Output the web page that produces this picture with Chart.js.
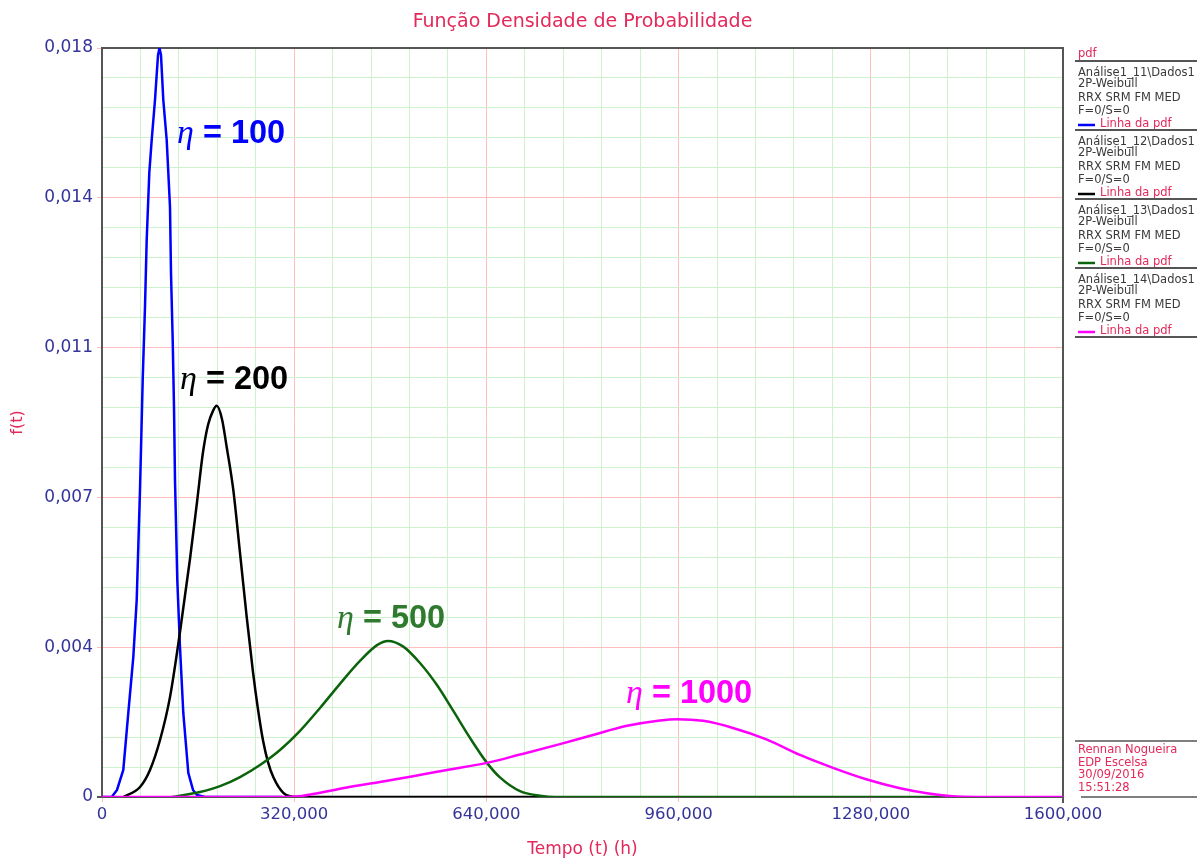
<!DOCTYPE html>
<html lang="pt">
<head>
    <meta charset="UTF-8">
    <title>Função Densidade de Probabilidade</title>
    <script src="https://cdn.jsdelivr.net/npm/chart.js"></script>
    <style>
        html, body { margin: 0; padding: 0; background: #fff; }
        #wrap { width: 1197px; height: 860px; position: relative; }
    </style>
</head>
<body>
<div id="wrap"><canvas id="pdfChart"></canvas></div>
<script>
    // Tempo (t) (h) e f(t)
    const eta100T = [0, 16150, 24970, 35460, 43790, 52110, 57770, 63270, 67760, 71590, 74420, 78750, 82750, 88240, 93240, 95730,
        98230, 102060, 107720, 113210, 114880, 117710, 119870, 121540, 125370, 129860, 135360, 143690, 151510, 158170, 171490, 300000];
    const eta100F = [0, 0, 0.00017, 0.00065, 0.00202, 0.00336, 0.00473, 0.00738, 0.01002, 0.01178, 0.01339, 0.015, 0.01579, 0.01675, 0.01783, 0.018,
        0.01783, 0.01675, 0.01579, 0.01418, 0.01259, 0.01098, 0.00937, 0.00762, 0.00521, 0.0036, 0.00202, 0.00058, 0.00017, 0.00005, 0, 0];

    const eta200T = [35500, 63300, 79900, 96600, 113200, 129900, 146500, 158200, 168200, 176500, 184800, 191000,
        199800, 207600, 218600, 229800, 240900, 251400, 259700, 268600, 276400, 285200, 301900, 324200, 742000];
    const eta200F = [0, 0.00024, 0.00065, 0.00137, 0.0024, 0.00397, 0.00572, 0.00709, 0.00829, 0.00894, 0.00928, 0.0094,
        0.00908, 0.00841, 0.00738, 0.00586, 0.00433, 0.003, 0.00211, 0.00132, 0.00084, 0.00048, 0.0001, 0, 0];

    const eta500T = [116500, 163200, 196500, 229800, 263100, 296400, 329700, 363000, 396200, 429500, 457900, 476200, 501100,
        529400, 557700, 584400, 612700, 641000, 662600, 695900, 729200, 754200, 1415000];
    const eta500F = [0, 0.00012, 0.00026, 0.00048, 0.00077, 0.00113, 0.00159, 0.00214, 0.00272, 0.00327, 0.00365, 0.00375, 0.00362,
        0.00322, 0.00269, 0.00208, 0.00142, 0.00082, 0.00047, 0.00014, 0.00003, 0, 0];

    const eta1000T = [0, 296400, 329700, 351300, 407900, 462800, 517800, 574400, 641000, 695900, 762500, 817500, 874100, 929000, 957300,
        1000600, 1050600, 1107200, 1162100, 1217100, 1273700, 1328600, 1373600, 1415200, 1453500, 1600000];
    const eta1000F = [0, 0, 0.00002, 0.00007, 0.00023, 0.00036, 0.0005, 0.00065, 0.00082, 0.00102, 0.00127, 0.00149, 0.00171, 0.00184, 0.00187,
        0.00183, 0.00166, 0.00138, 0.00101, 0.0007, 0.00042, 0.00021, 0.00009, 0.00002, 0, 0];

    const xTickLabels = ['0', '320,000', '640,000', '960,000', '1280,000', '1600,000'];
    const yTickLabels = ['0', '0,004', '0,007', '0,011', '0,014', '0,018'];
    const xMax = 1600000;
    const yMax = 0.018;
    const minorPerMajor = 5;

    const seriesColors = ['#0000ff', '#000000', '#0b640b', '#ff00ff'];
    const legendNames = ['Análise1_11\\Dados1', 'Análise1_12\\Dados1', 'Análise1_13\\Dados1', 'Análise1_14\\Dados1'];
    const footerLines = ['Rennan Nogueira', 'EDP Escelsa', '30/09/2016', '15:51:28'];

    // rótulos η sobre as curvas (posição em unidades dos eixos)
    const etaLabels = [
        { text: '100', t: 124900, f: 0.01572, color: '#0000ff' },
        { text: '200', t: 129900, f: 0.0098, color: '#000000' },
        { text: '500', t: 391300, f: 0.00406, color: '#2f7a2f' },
        { text: '1000', t: 872400, f: 0.00226, color: '#ff00ff' }
    ];

    const CRIMSON = '#e3285a';
    const NAVY = '#34349a';
    const PINK = '#ffbdbd';
    const GREEN = '#cdf3cd';
    const FRAME = '#555555';

    const gridCount = (xTickLabels.length - 1) * minorPerMajor;
    const gridColors = Array.from({ length: gridCount + 1 }, (_, i) => i % minorPerMajor === 0 ? PINK : GREEN);
    const tickMarkColors = gridColors.map(c => c === PINK ? PINK : 'rgba(0,0,0,0)');

    function pts(ts, fs) {
        return ts.map((t, i) => ({ x: t, y: fs[i] }));
    }

    const framePlugin = {
        id: 'frame',
        beforeDatasetsDraw(chart) {
            const a = chart.chartArea, ctx = chart.ctx;
            ctx.save();
            ctx.strokeStyle = FRAME;
            ctx.lineWidth = 2;
            ctx.strokeRect(a.left, a.top, a.right - a.left, a.bottom - a.top);
            ctx.beginPath();
            ctx.moveTo(a.right, a.bottom);
            ctx.lineTo(a.right, a.bottom + 6);
            ctx.moveTo(a.left - 5, a.bottom);
            ctx.lineTo(a.left, a.bottom);
            ctx.stroke();
            ctx.restore();
        },
        afterDraw(chart) {
            const a = chart.chartArea, ctx = chart.ctx;
            const xs = chart.scales.x, ys = chart.scales.y;
            const x0 = a.right + 12;
            const xEnd = chart.width;
            ctx.save();

            // título centrado sobre a área do gráfico
            ctx.textAlign = 'center';
            ctx.textBaseline = 'middle';
            ctx.fillStyle = CRIMSON;
            ctx.font = '19px "DejaVu Sans"';
            ctx.fillText('Função Densidade de Probabilidade', (a.left + a.right) / 2, 22);

            // legenda lateral
            ctx.textAlign = 'left';
            ctx.font = '11.5px "DejaVu Sans"';
            ctx.fillText('pdf', x0 + 3, 54);
            ctx.strokeStyle = FRAME;
            ctx.lineWidth = 2;
            ctx.beginPath(); ctx.moveTo(x0, 61); ctx.lineTo(xEnd, 61); ctx.stroke();

            legendNames.forEach((name, i) => {
                const base = 61 + 69 * i;
                ctx.fillStyle = '#3a3a3a';
                ctx.fillText(name, x0 + 3, base + 12.5);
                ctx.fillText('2P-Weibull', x0 + 3, base + 23.5);
                ctx.fillText('RRX SRM FM MED', x0 + 3, base + 37);
                ctx.fillText('F=0/S=0', x0 + 3, base + 50.5);
                ctx.strokeStyle = seriesColors[i];
                ctx.lineWidth = 2.5;
                ctx.beginPath(); ctx.moveTo(x0 + 3, base + 64); ctx.lineTo(x0 + 20, base + 64); ctx.stroke();
                ctx.fillStyle = CRIMSON;
                ctx.fillText('Linha da pdf', x0 + 25, base + 63.5);
                ctx.strokeStyle = FRAME;
                ctx.lineWidth = 2;
                ctx.beginPath(); ctx.moveTo(x0, base + 69); ctx.lineTo(xEnd, base + 69); ctx.stroke();
            });

            // rodapé
            ctx.strokeStyle = FRAME;
            ctx.lineWidth = 1.5;
            ctx.beginPath(); ctx.moveTo(x0, 741); ctx.lineTo(xEnd, 741); ctx.stroke();
            ctx.beginPath(); ctx.moveTo(x0 + 6, a.bottom); ctx.lineTo(xEnd, a.bottom); ctx.stroke();
            ctx.fillStyle = CRIMSON;
            footerLines.forEach((s, i) => ctx.fillText(s, x0 + 3, 750 + 12.6 * i));

            // rótulos η
            ctx.textBaseline = 'alphabetic';
            etaLabels.forEach(l => {
                const px = xs.getPixelForValue(l.t);
                const py = ys.getPixelForValue(l.f);
                ctx.fillStyle = l.color;
                ctx.font = 'italic 34px "Liberation Serif"';
                ctx.fillText('η', px, py);
                const w = ctx.measureText('η').width;
                ctx.font = 'bold 32.5px "Liberation Sans"';
                ctx.fillText(' = ' + l.text, px + w, py);
            });
            ctx.restore();
        }
    };

    const lineBase = { pointRadius: 0, borderWidth: 2.5, fill: false };

    new Chart(document.getElementById('pdfChart').getContext('2d'), {
        type: 'line',
        data: {
            datasets: [
                { ...lineBase, label: 'η = 100', data: pts(eta100T, eta100F), borderColor: seriesColors[0], tension: 0, order: 3 },
                { ...lineBase, label: 'η = 200', data: pts(eta200T, eta200F), borderColor: seriesColors[1], cubicInterpolationMode: 'monotone', order: 2 },
                { ...lineBase, label: 'η = 500', data: pts(eta500T, eta500F), borderColor: seriesColors[2], cubicInterpolationMode: 'monotone', order: 1 },
                { ...lineBase, label: 'η = 1000', data: pts(eta1000T, eta1000F), borderColor: seriesColors[3], cubicInterpolationMode: 'monotone', order: 0 }
            ]
        },
        options: {
            responsive: true,
            maintainAspectRatio: false,
            animation: false,
            layout: { padding: { left: 0, right: 134, top: 48, bottom: 0 } },
            plugins: {
                legend: { display: false },
                tooltip: { enabled: false },
                title: { display: false }
            },
            scales: {
                x: {
                    type: 'linear',
                    min: 0,
                    max: xMax,
                    afterBuildTicks: s => {
                        s.ticks = Array.from({ length: gridCount + 1 }, (_, i) => ({ value: i * xMax / gridCount }));
                    },
                    afterFit: s => { s.height = 63; },
                    ticks: {
                        autoSkip: false,
                        maxRotation: 0,
                        color: NAVY,
                        font: { family: 'DejaVu Sans', size: 16.5 },
                        padding: 3,
                        callback: (v, i) => i % minorPerMajor === 0 ? xTickLabels[i / minorPerMajor] : ''
                    },
                    grid: { color: gridColors, tickColor: tickMarkColors, tickLength: 5 },
                    border: { display: false },
                    title: {
                        display: true,
                        text: 'Tempo (t) (h)',
                        color: CRIMSON,
                        font: { family: 'DejaVu Sans', size: 17 },
                        padding: 0
                    }
                },
                y: {
                    type: 'linear',
                    min: 0,
                    max: yMax,
                    afterBuildTicks: s => {
                        s.ticks = Array.from({ length: gridCount + 1 }, (_, i) => ({ value: i * yMax / gridCount }));
                    },
                    afterFit: s => { s.width = 102; },
                    ticks: {
                        autoSkip: false,
                        color: NAVY,
                        font: { family: 'DejaVu Sans', size: 17 },
                        padding: 4,
                        callback: (v, i) => i % minorPerMajor === 0 ? yTickLabels[i / minorPerMajor] : ''
                    },
                    grid: { color: gridColors, tickColor: tickMarkColors, tickLength: 5 },
                    border: { display: false },
                    title: {
                        display: true,
                        text: 'f(t)',
                        color: CRIMSON,
                        font: { family: 'DejaVu Sans', size: 16 },
                        padding: { top: 8, bottom: 0 }
                    }
                }
            }
        },
        plugins: [framePlugin]
    });
</script>
</body>
</html>
